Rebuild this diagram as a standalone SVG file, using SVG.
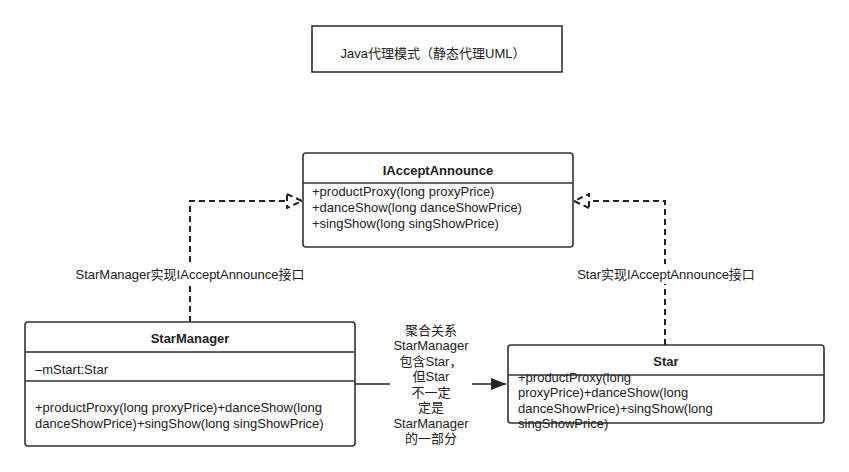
<svg xmlns="http://www.w3.org/2000/svg" width="849" height="472" viewBox="0 0 849 472">
<defs>
<style>
.box{fill:#fff;stroke:#333;stroke-width:1.6}
.sep{stroke:#333;stroke-width:1.6}
.t{font-family:"Liberation Sans","Noto Sans CJK SC",sans-serif;font-size:13px;fill:#222}
.b{font-weight:bold}
.m{text-anchor:middle}
.dash{fill:none;stroke:#222;stroke-width:2;stroke-dasharray:6,4}
.solid{fill:none;stroke:#222;stroke-width:1.6}
</style>
<marker id="tri" markerWidth="18" markerHeight="16" refX="16" refY="8" orient="auto" markerUnits="userSpaceOnUse">
<path d="M1,1 L16,8 L1,15 Z" fill="#fff" stroke="#222" stroke-width="2" stroke-dasharray="6,4"/>
</marker>
<marker id="arr" markerWidth="18" markerHeight="14" refX="16" refY="7" orient="auto" markerUnits="userSpaceOnUse">
<path d="M1,1 L16,7 L1,13 Z" fill="#222"/>
</marker>
</defs>
<rect width="849" height="472" fill="#fff"/>
<g id="title">
<rect x="312" y="26" width="250" height="46" fill="#fff" stroke="#333" stroke-width="1.6"/>
<text class="t m" x="433" y="58">Java代理模式（静态代理UML）</text>
</g>
<g id="connectors">
<path class="dash" d="M190,322 L190,201 L302,201" marker-end="url(#tri)"/>
<path class="dash" d="M665,345 L665,201 L574,201" marker-end="url(#tri)"/>
<path class="solid" d="M355,384 L506,384" marker-end="url(#arr)"/>
<rect x="68" y="264" width="244" height="20" fill="#fff"/>
<text class="t m" x="190" y="279">StarManager实现IAcceptAnnounce接口</text>
<rect x="570" y="264" width="192" height="20" fill="#fff"/>
<text class="t m" x="666" y="279">Star实现IAcceptAnnounce接口</text>
<rect x="390" y="321" width="82" height="128" fill="#fff"/>
<text class="t m" x="431" y="335">聚合关系</text>
<text class="t m" x="431" y="350">StarManager</text>
<text class="t m" x="431" y="366">包含Star，</text>
<text class="t m" x="431" y="381">但Star</text>
<text class="t m" x="431" y="397">不一定</text>
<text class="t m" x="431" y="412">定是</text>
<text class="t m" x="431" y="428">StarManager</text>
<text class="t m" x="431" y="443">的一部分</text>
</g>
<g id="IAcceptAnnounce">
<rect class="box" x="303" y="153" width="270" height="94" rx="3"/>
<line class="sep" x1="303" y1="183" x2="573" y2="183"/>
<text class="t b m" x="438" y="175">IAcceptAnnounce</text>
<text class="t" x="312" y="196">+productProxy(long proxyPrice)</text>
<text class="t" x="312" y="212">+danceShow(long danceShowPrice)</text>
<text class="t" x="312" y="228">+singShow(long singShowPrice)</text>
</g>
<g id="StarManager">
<rect class="box" x="25" y="322" width="330" height="124" rx="3"/>
<line class="sep" x1="25" y1="352" x2="355" y2="352"/>
<line class="sep" x1="25" y1="381" x2="355" y2="381"/>
<text class="t b m" x="190" y="343">StarManager</text>
<text class="t" x="35" y="374">–mStart:Star</text>
<text class="t" x="35" y="412">+productProxy(long proxyPrice)+danceShow(long</text>
<text class="t" x="35" y="428">danceShowPrice)+singShow(long singShowPrice)</text>
</g>
<g id="Star">
<rect class="box" x="508" y="345" width="316" height="78" rx="3"/>
<line class="sep" x1="508" y1="375" x2="824" y2="375"/>
<text class="t b m" x="666" y="366">Star</text>
<text class="t" x="518" y="382">+productProxy(long</text>
<text class="t" x="518" y="397">proxyPrice)+danceShow(long</text>
<text class="t" x="518" y="413">danceShowPrice)+singShow(long</text>
<text class="t" x="518" y="428">singShowPrice)</text>
</g>
</svg>
